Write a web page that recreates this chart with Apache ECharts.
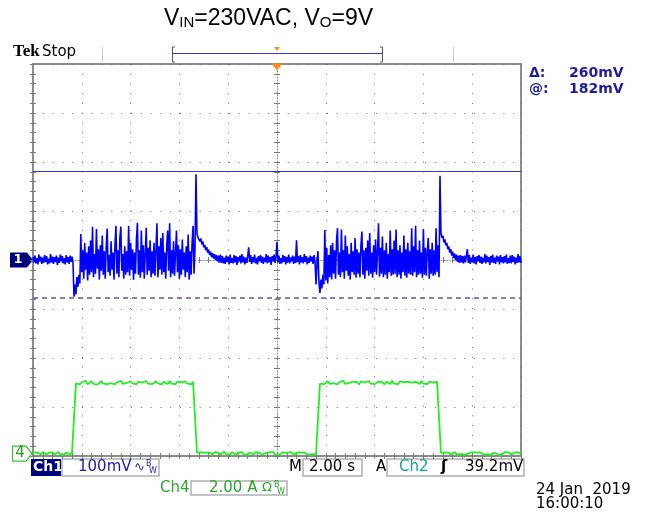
<!DOCTYPE html>
<html>
<head>
<meta charset="utf-8">
<script src="https://cdn.jsdelivr.net/npm/echarts/dist/echarts.min.js"></script>
<style>
html, body { margin: 0; padding: 0; background: #fff; }
#chart { width: 647px; height: 517px; }
</style>
</head>
<body>
<div id="chart"></div>
<script>
// Acquisition settings (horizontal 2 s/div, 10 divisions)
const ch1Step = 0.04;             // seconds between stored Ch1 samples
const ch4Step = 0.08;             // seconds between stored Ch4 samples
const triggerTime = 10;           // trigger point in the record (s)
const timeSpan = [0, 20];
const ch1Span = [-400, 400];      // 100 mV/div, 8 divisions, ground at centre
const ch4Span = [-0.1, 15.9];     // 2 A/div, ground just above bottom edge

// Ch1: output ripple (mV), one value per Ch1 sample step
const ch1mV = [
  // idle
  6, -5, 9, -7, 4, -9, 11, -3, 7, -8, 5, -6, 10, -4, 8, -9, 3, -7, 12, -5,
  7, -8, 6, -4, 9, -10, 5, -6, 11, -3, 8, -7, 4, -9, 10, -5, 6, -8, 9, -4,
  7, -6,
  // first burst
  -75, -50, -70, -35, -55, -30, -48, 53, -25, 20,
  -38, 35, -20, 15, -42, 28, -30, 40, -25, 68,
  -35, 12, -28, 63, -18, 22, -40, 30, -22, 50,
  -30, 18, -38, 25, 64, -25, 10, -32, 38, -20,
  15, -40, 30, 70, -28, 20, -35, 45, 68, -22,
  12, -38, 28, -30, 18, -25, 70, -32, 35, -20,
  22, -40, 15, -28, 42, 76, -30, 20, -36, 60,
  -25, 30, -38, 12, 66, -30, 25, -22, 40, -35,
  18, -28, 35, -32, 20, 75, -35, 28, -20, 45,
  -30, 55, -25, 15, -38, 30, 60, -22, 75, -35,
  20, -28, 38, -32, 12, 60, -25, 30, -38, 22,
  -30, 42, -20, 15, -35, 28, -25, 52, -40, 18,
  -30, 35, 70, -28, 25,
  175,
  // recovery
  55, 46, 50, 38, 44, 32, 38, 26, 31, 20, 26, 15, 21, 10, 17, 6, 14, 3, 12, 0,
  10, -3, 9, -5, 11, -6, 8, -7,
  // idle
  5, -8, 9, -4, 7, -9, 11, -6, 4, -7, 10, -5, 8, -10, 6, -3, 9, -7, 12, -5,
  7, -9, 5, -6, 8, 26, -4, 10, -8, 6, -5, 11, -7, 4, -9, 8, -3, 10, -6, 7,
  -8, 5, -4, 12, -7, 9, -5, 6, -10, 8, -3, 11, -6, 7, 37, -5, 9, -8, 4, -7,
  10, -4, 8, -9, 6, -5, 11, -7, 5, -3, 9, -8, 7, -6, 40, -4, 8, -9, 10, -5,
  6, -7, 12, -4, 8, -9, 5, -6, 9, -3, 7, -8, 10, -5, -50, -7,
  // second burst
  18, -45, -67, -40, -58, -30, -50, 61, -42, 25,
  -48, 10, -35, 30, -40, 35, -28, 20, -38, 40,
  65, -30, 15, -35, 62, -25, 20, -38, 50, -22,
  28, -32, 12, -40, 35, -25, 18, -30, 45, -36,
  22, -28, 15, -35, 30, 58, -30, 20, -38, 25,
  -22, 40, -32, 55, -28, 15, -36, 30, -25, 42,
  -30, 18, 75, -34, 25, -28, 48, -35, 20, -30,
  35, -38, 12, -25, 60, -32, 22, -30, 40, -28,
  62, -35, 20, -30, 30, -38, 15, -25, 50, -32,
  22, -36, 35, -28, 18, -30, 65, -32, 28, -25,
  70, -35, 20, -30, 40, -28, 15, -36, 63, -30,
  25, -32, 18, 45, -38, 22, -28, 35, -32, 20,
  -30, 65, -25, 30, -35,
  172,
  // recovery
  55, 45, 50, 36, 42, 30, 35, 22, 28, 15, 22, 9, 17, 4, 13, 0, 11, -4, 9, -6,
  10, -5, 8,
  // idle
  -7, 9, -5, 8, 22, -6, 10, -8, 5, -4, 11, -7, 6, -9, 8, -3, 10, -6, 7, -8,
  4, -5, 12, -7, 9, -4, 6, -10, 8, -5, 11, -6, 5, -8, 9, -3, 7, -9, 10, -4,
  6, -7, 8, -5, 11, -8, 4, -6, 9, -7, 10, -4, 7, -9, 5, -6, 12, -5, 8, -6
];

// Ch4: current (A), one value per Ch4 sample step
const ch4A = [
  0.03, -0.04, 0.05, 0.00, -0.03, 0.06, 0.01, -0.05, 0.04, -0.02, 0.05, -0.04, 0.02, 0.06, -0.03, 0.03,
  -0.05, 0.04, 0.00, -0.04, 0.05, -0.02,
  2.86, 2.94, 2.82, 2.91, 2.85, 2.97, 2.83, 2.90, 2.95, 2.84,
  2.92, 2.81, 2.89, 2.96, 2.85, 2.93, 2.83, 2.90, 2.87, 2.95,
  2.82, 2.91, 2.86, 2.97, 2.84, 2.92, 2.88, 2.83, 2.95, 2.86,
  2.91, 2.82, 2.94, 2.87, 2.90, 2.84, 2.96, 2.85, 2.92, 2.83,
  2.89, 2.95, 2.86, 2.91, 2.82, 2.93, 2.88, 2.84, 2.96, 2.85,
  2.90, 2.83, 2.94, 2.87, 2.91, 2.84, 2.95, 2.86, 2.89, 2.82,
  2.93, 2.87,
  0.04, -0.03, 0.06, -0.01, 0.03, -0.05, 0.05, 0.00, -0.04, 0.06,
  -0.02, 0.04, -0.05, 0.03, 0.07, -0.03, 0.02, -0.04, 0.05, 0.01,
  -0.05, 0.04, -0.02, 0.06, -0.03, 0.03, -0.05, 0.05, 0.00, -0.04,
  0.06, -0.02, 0.04, -0.05, 0.03, 0.02, -0.04, 0.05, -0.01, 0.06,
  -0.03, 0.04, -0.05, 0.02, 0.05, -0.02, 0.03, -0.04, 0.06, 0.00,
  -0.05, 0.04, -0.02, 0.05, -0.03, 0.03, 0.06, -0.04, 0.02, -0.02,
  0.05, -0.03, 0.04,
  2.85, 2.93, 2.83, 2.90, 2.96, 2.84, 2.91, 2.87, 2.95, 2.82,
  2.92, 2.86, 2.97, 2.84, 2.90, 2.88, 2.83, 2.94, 2.86, 2.91,
  2.82, 2.95, 2.87, 2.90, 2.84, 2.96, 2.85, 2.92, 2.83, 2.89,
  2.94, 2.86, 2.91, 2.82, 2.93, 2.88, 2.84, 2.97, 2.85, 2.90,
  2.83, 2.95, 2.87, 2.91, 2.84, 2.94, 2.86, 2.89, 2.82, 2.93,
  2.88, 2.84, 2.96, 2.85, 2.91, 2.83, 2.94, 2.87, 2.90, 2.84,
  2.92, 2.86,
  0.03, -0.04, 0.05, -0.01, 0.04, -0.05, 0.02, 0.06, -0.03, 0.04,
  -0.02, 0.05, -0.04, 0.03, 0.00, -0.05, 0.06, -0.02, 0.04, -0.03,
  0.05, 0.01, -0.04, 0.03, -0.02, 0.06, -0.05, 0.04, 0.00, -0.03,
  0.05, -0.04, 0.03, 0.06, -0.02, 0.04, -0.05, 0.02, 0.05, -0.03,
  0.04, -0.01
];

// Horizontal bar cursors on Ch1 (mV)
const cursorLevels = [182, -78];

// Readout strings
const ch1Scale = '100mV';
const ch4Scale = '2.00 A';
const timeScale = '2.00 s';
const trigLevel = '39.2mV';
const dateText = '24 Jan  2019';
const timeText = '16:00:10';

const toPairs = (arr, step) => arr.map((v, i) => [+(i * step).toFixed(2), v]);

const plotRect = { left: 33, top: 64, width: 488, height: 392 };
const dotColor = '#6a6a6a';
const tickColor = '#7a7a7a';

function edgeAxis(gridIndex, position, max, extra) {
  return Object.assign({
    gridIndex, position, type: 'value', min: 0, max, interval: 1,
    axisLine: { show: false },
    axisTick: { show: true, inside: true, length: 3, lineStyle: { color: tickColor, width: 1 } },
    minorTick: { show: true, splitNumber: 5, length: 3, lineStyle: { color: tickColor, width: 1 } },
    axisLabel: { show: false },
    splitLine: { show: false }
  }, extra || {});
}

function centreAxis(gridIndex, lo, hi, inside, lineVisible) {
  return {
    gridIndex, type: 'value', min: lo, max: hi, interval: 1,
    axisLine: { show: true, onZero: true, lineStyle: { color: '#808080', width: 1, type: [1, 2], opacity: lineVisible ? 1 : 0 } },
    axisTick: { show: true, inside, length: 3, lineStyle: { color: tickColor, width: 1 } },
    minorTick: { show: true, splitNumber: 5, length: 3, lineStyle: { color: tickColor, width: 1 } },
    axisLabel: { show: false },
    splitLine: { show: false }
  };
}

const chart = echarts.init(document.getElementById('chart'), null, { renderer: 'canvas' });

const option = {
  animation: false,
  backgroundColor: '#ffffff',
  title: {
    text: '{a|V}{s|IN}{a|=230VAC, V}{s|O}{a|=9V}',
    left: 164, top: 7, padding: 0,
    textStyle: {
      fontWeight: 'normal',
      rich: {
        a: { fontSize: 23, fontFamily: 'Liberation Sans', fontWeight: 'normal', color: '#000', verticalAlign: 'bottom' },
        s: { fontSize: 15, fontFamily: 'Liberation Sans', fontWeight: 'normal', color: '#000', verticalAlign: 'bottom' }
      }
    }
  },
  grid: [
    Object.assign({ show: false }, plotRect),
    Object.assign({ show: true, borderColor: '#8c8c8c', borderWidth: 2, backgroundColor: 'transparent' }, plotRect),
    Object.assign({ show: false }, plotRect),
    Object.assign({ show: false }, plotRect)
  ],
  xAxis: [
    { gridIndex: 0, type: 'value', min: timeSpan[0], max: timeSpan[1], show: false },
    edgeAxis(1, 'bottom', 10, { splitLine: { show: true, lineStyle: { color: dotColor, width: 1, type: [1, 8.76] } } }),
    edgeAxis(1, 'top', 10),
    centreAxis(2, -5, 5, true, true),
    centreAxis(3, -5, 5, false, false)
  ],
  yAxis: [
    { gridIndex: 0, type: 'value', min: ch1Span[0], max: ch1Span[1], show: false },
    { gridIndex: 0, type: 'value', min: ch4Span[0], max: ch4Span[1], show: false, position: 'right' },
    edgeAxis(1, 'left', 8, { splitLine: { show: true, lineStyle: { color: dotColor, width: 1, type: [1, 8.8] } } }),
    edgeAxis(1, 'right', 8),
    centreAxis(2, -4, 4, true, true),
    centreAxis(3, -4, 4, false, false)
  ],
  series: [
    {
      name: 'Ch1', type: 'line', xAxisIndex: 0, yAxisIndex: 0,
      data: toPairs(ch1mV, ch1Step), symbol: 'none', showSymbol: false,
      lineStyle: { color: '#0000ff', width: 1.6 },
      emphasis: { disabled: true }, silent: true, z: 3,
      markLine: {
        silent: true, symbol: ['none', 'none'], label: { show: false },
        data: [
          { yAxis: cursorLevels[0], lineStyle: { type: 'solid', color: '#3535e0', width: 1 } },
          { yAxis: cursorLevels[1], lineStyle: { type: [5, 4], color: '#5252b8', width: 1.5 } }
        ]
      },
      markPoint: {
        silent: true, symbol: 'triangle', symbolSize: [11, 7], symbolRotate: 180, symbolOffset: [0, 3],
        itemStyle: { color: '#ff8a1e' }, label: { show: false },
        data: [{ coord: [triggerTime, ch1Span[1]] }]
      }
    },
    {
      name: 'Ch4', type: 'line', xAxisIndex: 0, yAxisIndex: 1,
      data: toPairs(ch4A, ch4Step), symbol: 'none', showSymbol: false,
      lineStyle: { color: '#22ee22', width: 1.8 },
      emphasis: { disabled: true }, silent: true, z: 3
    }
  ]
};

chart.setOption(option);

// Channel ground markers follow each channel's zero level
const y1 = chart.convertToPixel({ yAxisIndex: 0 }, 0);
const y4 = chart.convertToPixel({ yAxisIndex: 1 }, 0);

const uiFont = '"DejaVu Sans"';
const txt = (x, y, text, fill, font, align) => ({
  type: 'text', x, y, silent: true,
  style: { text, fill, font, textAlign: align || 'left', textVerticalAlign: 'middle' }
});
const box = (x, y, w, h, fill, stroke) => ({
  type: 'rect', silent: true, shape: { x, y, width: w, height: h },
  style: { fill: fill || 'none', stroke: stroke || 'none', lineWidth: 1.5 }
});
const seg = (x1, y1_, x2, y2, stroke, w) => ({
  type: 'line', silent: true, shape: { x1, y1: y1_, x2, y2 }, style: { stroke, lineWidth: w || 1 }
});

const delta = cursorLevels[0] - cursorLevels[1];
const cursorBlue = '#1c1ca0';

const elements = [
  // header strip
  txt(13, 52, 'Tek', '#000', 'bold 17px "Liberation Serif"'),
  txt(42, 52, 'Stop', '#000', '15px ' + uiFont),
  seg(102.5, 47, 102.5, 62, '#c8c8c8'),
  seg(453.5, 47, 453.5, 62, '#c8c8c8'),
  seg(172.5, 47, 172.5, 62, '#555'), seg(172.5, 47, 175, 47, '#555'), seg(172.5, 62, 175, 62, '#555'),
  seg(382.5, 47, 382.5, 62, '#555'), seg(380, 47, 382.5, 47, '#555'), seg(380, 62, 382.5, 62, '#555'),
  seg(173, 53.5, 382, 53.5, '#3838c0', 1.2),
  { type: 'polygon', silent: true, shape: { points: [[274, 47], [280, 47], [277, 51]] }, style: { fill: '#ff8a1e' } },

  // cursor readout
  txt(529, 73, 'Δ:', cursorBlue, 'bold 14px ' + uiFont),
  txt(569, 73, delta + 'mV', cursorBlue, 'bold 14px ' + uiFont),
  txt(529, 89, '@:', cursorBlue, 'bold 14px ' + uiFont),
  txt(569, 89, cursorLevels[0] + 'mV', cursorBlue, 'bold 14px ' + uiFont),

  // channel ground markers
  { type: 'polygon', silent: true, shape: { points: [[10, y1 - 7.5], [27, y1 - 7.5], [33, y1], [27, y1 + 7.5], [10, y1 + 7.5]] }, style: { fill: '#00007c' } },
  txt(18, y1, '1', '#fff', 'bold 13px ' + uiFont, 'center'),
  { type: 'polygon', silent: true, shape: { points: [[12.5, y4 - 7.5], [26, y4 - 7.5], [32, y4], [26, y4 + 7.5], [12.5, y4 + 7.5]] }, style: { fill: '#fff', stroke: '#33c433', lineWidth: 1.2 } },
  txt(20, y4, '4', '#22a022', '15px ' + uiFont, 'center'),

  // bottom readouts, first row
  box(31, 459, 30, 17, '#00007c'),
  txt(33, 467.5, 'Ch1', '#fff', 'bold 14px ' + uiFont),
  box(62, 459, 97, 17, null, '#b0b0b0'),
  txt(78, 467.5, ch1Scale, '#1c1ca8', '15px ' + uiFont),
  txt(134, 467.5, '∿', '#1c1ca8', '13px ' + uiFont),
  txt(146, 464, 'B', '#1c1ca8', '8px ' + uiFont),
  txt(149, 471, 'W', '#1c1ca8', '8px ' + uiFont),
  txt(289, 467.5, 'M', '#000', '15px ' + uiFont),
  box(303, 459, 59, 17, null, '#b0b0b0'),
  txt(309, 467.5, timeScale, '#000', '15px ' + uiFont),
  txt(376, 467.5, 'A', '#000', '15px ' + uiFont),
  box(387, 459, 137, 17, null, '#b0b0b0'),
  txt(399, 467.5, 'Ch2', '#19a0a0', '15px ' + uiFont),
  txt(441, 467.5, 'ʃ', '#000', 'bold 15px ' + uiFont),
  txt(465, 467.5, trigLevel, '#000', '15px ' + uiFont),

  // bottom readouts, second row
  txt(160, 488, 'Ch4', '#2aa52a', '15px ' + uiFont),
  box(191, 481, 96, 14, null, '#b0b0b0'),
  txt(209, 488, ch4Scale, '#2aa52a', '15px ' + uiFont),
  txt(262, 488, 'Ω', '#2aa52a', '13px ' + uiFont),
  txt(274, 485, 'B', '#2aa52a', '8px ' + uiFont),
  txt(277, 492, 'W', '#2aa52a', '8px ' + uiFont),

  // date stamp
  txt(536, 490, dateText, '#000', '15px ' + uiFont),
  txt(536, 504, timeText, '#000', '15px ' + uiFont)
];

chart.setOption({ graphic: { elements } });
</script>
</body>
</html>
